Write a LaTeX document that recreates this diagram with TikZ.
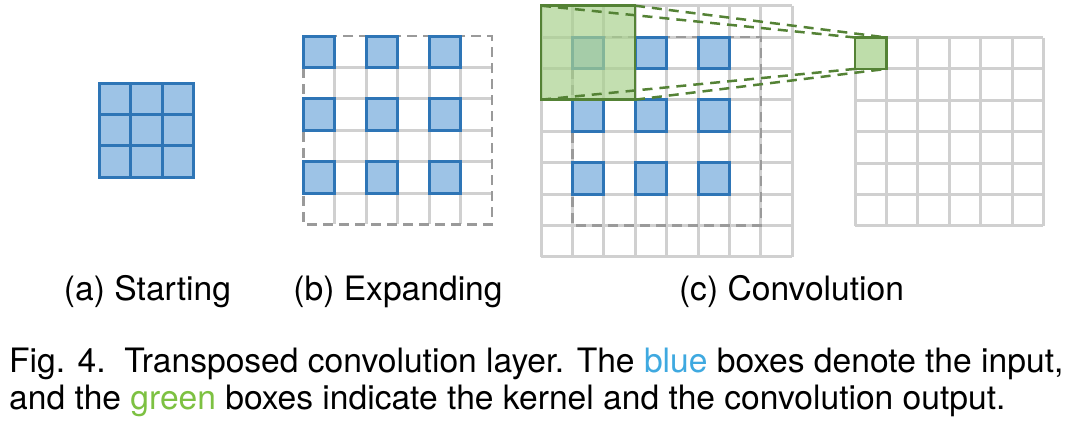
\documentclass[tikz,border=0pt]{standalone}
\usepackage{fontspec}
\setmainfont{TeX Gyre Heros}
\definecolor{bluefill}{HTML}{9DC3E6}
\definecolor{blueline}{HTML}{2E75B6}
\definecolor{greenfill}{HTML}{A9D18E}
\definecolor{greenline}{HTML}{548235}
\definecolor{gridgray}{HTML}{D0D0D0}
\definecolor{dashgray}{HTML}{9A9A9A}
\definecolor{capblue}{HTML}{3FA9E0}
\definecolor{capgreen}{HTML}{7DC142}
\begin{document}
\begin{tikzpicture}[x=1pt,y=1pt,
  gridline/.style={draw=gridgray, line width=3pt},
  bluecell/.style={draw=blueline, fill=bluefill, line width=3pt},
  outerdash/.style={draw=dashgray, line width=2.5pt, dash pattern=on 10pt off 6pt},
  kernelbox/.style={draw=greenline, fill=greenfill, fill opacity=0.7, draw opacity=1, line width=2.5pt, inner sep=0pt, outer sep=0pt, minimum width=94pt, minimum height=94pt, anchor=north west},
  outbox/.style={draw=greenline, fill=greenfill!75!white, line width=2.5pt, inner sep=0pt, outer sep=0pt, minimum width=31.4pt, minimum height=31.4pt, anchor=north west},
  proj/.style={draw=greenline, line width=2.5pt, dash pattern=on 10pt off 7pt},
  sublabel/.style={font=\fontsize{33.6}{40}\selectfont, anchor=base, inner sep=0pt},
  captext/.style={font=\fontsize{33.6}{40}\selectfont, anchor=base west, inner sep=0pt}]
\useasboundingbox (0,0) rectangle (1074,-423);
\def\c{31.4}
% (a) Starting
\foreach \i in {0,1,2}{\foreach \j in {0,1,2}{
  \draw[bluecell] ({99.5+\i*\c},{-83-\j*\c}) rectangle ++(\c,-\c);}}
% (b) Expanding
\foreach \i in {1,...,5}{
  \draw[gridline] ({303.5+\i*\c},-36) -- ++(0,{-6*\c});
  \draw[gridline] (303.5,{-36-\i*\c}) -- ++({6*\c},0);}
\draw[outerdash] (303.5,-36) rectangle ++({6*\c},{-6*\c});
\foreach \i in {0,2,4}{\foreach \j in {0,2,4}{
  \draw[bluecell] ({303.5+\i*\c},{-36-\j*\c}) rectangle ++(\c,-\c);}}
% (c) Convolution
\foreach \i in {0,...,8}{
  \draw[gridline] ({541+\i*\c},-5.7) -- ++(0,{-8*\c});
  \draw[gridline] (541,{-5.7-\i*\c}) -- ++({8*\c},0);}
\draw[outerdash] ({541+\c},{-5.7-\c}) rectangle ++({6*\c},{-6*\c});
\foreach \i in {1,3,5}{\foreach \j in {1,3,5}{
  \draw[bluecell] ({541+\i*\c},{-5.7-\j*\c}) rectangle ++(\c,-\c);}}
\node[kernelbox] (kernel) at (541,-5.7) {};
% output grid
\foreach \i in {0,...,6}{
  \draw[gridline] ({855+\i*\c},-37.5) -- ++(0,{-6*\c});
  \draw[gridline] (855,{-37.5-\i*\c}) -- ++({6*\c},0);}
\node[outbox] (out) at (855,-37.5) {};
% projection lines
\draw[proj] (kernel.north west) -- (out.north west);
\draw[proj] (kernel.north east) -- (out.north east);
\draw[proj] (kernel.south west) -- (out.south west);
\draw[proj] (kernel.south east) -- (out.south east);
% labels
\node[sublabel] (la) at (147.5,-300) {(a) Starting};
\node[sublabel] (lb) at (398,-300) {(b) Expanding};
\node[sublabel] (lc) at (791.5,-300) {(c) Convolution};
% caption
\node[captext] (cap1) at (9,-372) {Fig. 4.\ \ Transposed convolution layer. The \textcolor{capblue}{blue} boxes denote the input,};
\node[captext] (cap2) at (9,-409) {and the \textcolor{capgreen}{green} boxes indicate the kernel and the convolution output.};
\end{tikzpicture}
\end{document}
